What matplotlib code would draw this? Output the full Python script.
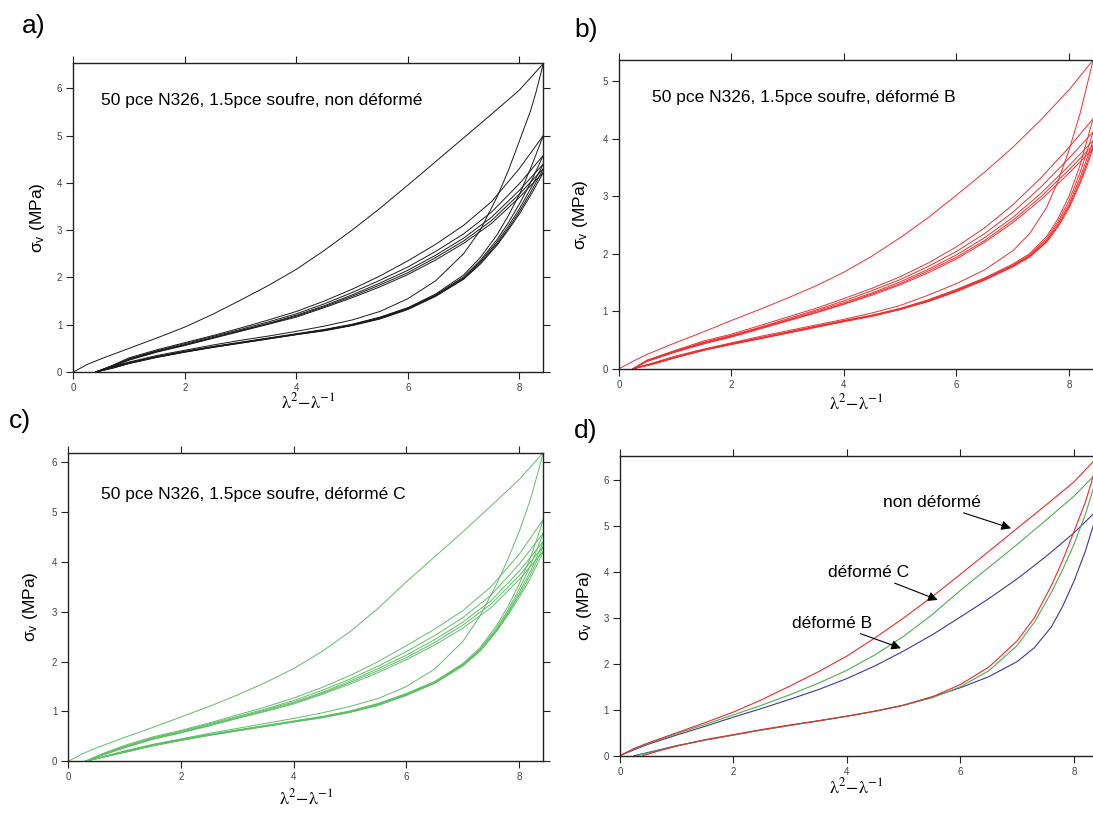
import matplotlib.pyplot as plt

plt.rcParams['font.family'] = ['Liberation Sans', 'DejaVu Sans']

# strain grids (lambda^2 - 1/lambda)
X_VIRGIN = [0, 0.25, 0.5, 1, 1.5, 2, 2.5, 3, 3.5, 4, 4.5, 5, 5.5, 6, 6.5, 7, 7.5, 8, 8.43]
X_RELOAD_A = [0.4, 0.7, 1.0, 1.5, 2.0, 2.5, 3.0, 3.5, 4.0, 4.5, 5.0, 5.5, 6.0, 6.5, 7.0, 7.5, 8.0, 8.43]
X_RELOAD_B = [0.25, 0.5, 1.0, 1.5, 2.0, 2.5, 3.0, 3.5, 4.0, 4.5, 5.0, 5.5, 6.0, 6.5, 7.0, 7.5, 8.0, 8.43]
X_RELOAD_C = [0.3, 0.6, 1.0, 1.5, 2.0, 2.5, 3.0, 3.5, 4.0, 4.5, 5.0, 5.5, 6.0, 6.5, 7.0, 7.5, 8.0, 8.43]
X_UNLOAD_A = [8.43, 8.3, 8.2, 8.0, 7.8, 7.6, 7.3, 7.0, 6.5, 6.0, 5.5, 5.0, 4.5, 4.0, 3.5, 3.0, 2.5, 2.0, 1.5, 1.0, 0.7, 0.4]
X_UNLOAD_B = [8.43, 8.3, 8.2, 8.0, 7.8, 7.6, 7.3, 7.0, 6.5, 6.0, 5.5, 5.0, 4.5, 4.0, 3.5, 3.0, 2.5, 2.0, 1.5, 1.0, 0.6, 0.25]
X_UNLOAD_C = [8.43, 8.3, 8.2, 8.0, 7.8, 7.6, 7.3, 7.0, 6.5, 6.0, 5.5, 5.0, 4.5, 4.0, 3.5, 3.0, 2.5, 2.0, 1.5, 1.0, 0.6, 0.3]

# a) non deforme
A_VIRGIN = [0, 0.16, 0.28, 0.5, 0.72, 0.95, 1.22, 1.52, 1.83, 2.17, 2.57, 3.0, 3.46, 3.95, 4.45, 4.95, 5.45, 5.96, 6.52]
A_UNLOAD1 = [6.52, 5.92, 5.52, 4.88, 4.25, 3.7, 3.0, 2.5, 1.93, 1.55, 1.28, 1.1, 0.97, 0.86, 0.76, 0.67, 0.57, 0.46, 0.35, 0.21, 0.11, 0]
A_RELOADS = [
    [0, 0.14, 0.3, 0.47, 0.62, 0.77, 0.93, 1.1, 1.28, 1.5, 1.75, 2.03, 2.35, 2.7, 3.1, 3.6, 4.3, 5.0],
    [0, 0.13, 0.28, 0.45, 0.6, 0.75, 0.9, 1.06, 1.23, 1.44, 1.68, 1.94, 2.22, 2.55, 2.92, 3.38, 3.98, 4.58],
    [0, 0.12, 0.27, 0.44, 0.58, 0.73, 0.88, 1.03, 1.2, 1.4, 1.63, 1.88, 2.15, 2.47, 2.83, 3.27, 3.84, 4.4],
    [0, 0.12, 0.26, 0.43, 0.57, 0.72, 0.87, 1.02, 1.18, 1.38, 1.6, 1.84, 2.1, 2.42, 2.77, 3.2, 3.76, 4.3],
    [0, 0.11, 0.25, 0.42, 0.56, 0.71, 0.86, 1.01, 1.16, 1.36, 1.57, 1.8, 2.06, 2.37, 2.72, 3.14, 3.69, 4.22],
]
A_UNLOADS = [
    [5.0, 4.6, 4.3, 3.75, 3.3, 2.9, 2.42, 2.05, 1.65, 1.36, 1.16, 1.01, 0.9, 0.81, 0.72, 0.63, 0.54, 0.44, 0.33, 0.2, 0.1, 0],
    [4.58, 4.25, 4.0, 3.55, 3.15, 2.8, 2.36, 2.01, 1.63, 1.35, 1.15, 1.0, 0.89, 0.8, 0.71, 0.62, 0.53, 0.43, 0.32, 0.19, 0.09, 0],
    [4.4, 4.1, 3.87, 3.45, 3.08, 2.75, 2.33, 1.99, 1.62, 1.34, 1.14, 0.99, 0.88, 0.8, 0.71, 0.62, 0.53, 0.43, 0.32, 0.19, 0.09, 0],
    [4.3, 4.01, 3.79, 3.39, 3.03, 2.71, 2.3, 1.97, 1.61, 1.33, 1.13, 0.99, 0.88, 0.79, 0.7, 0.61, 0.52, 0.42, 0.31, 0.18, 0.08, 0],
    [4.22, 3.94, 3.73, 3.34, 3.0, 2.68, 2.28, 1.96, 1.6, 1.32, 1.12, 0.98, 0.87, 0.79, 0.7, 0.61, 0.52, 0.42, 0.31, 0.18, 0.08, 0],
]

# b) deforme B
B_VIRGIN = [0, 0.13, 0.25, 0.45, 0.64, 0.84, 1.03, 1.23, 1.44, 1.68, 1.96, 2.28, 2.63, 3.02, 3.42, 3.85, 4.33, 4.85, 5.37]
B_UNLOAD1 = [5.37, 4.85, 4.45, 3.8, 3.25, 2.8, 2.35, 2.05, 1.72, 1.48, 1.28, 1.1, 0.97, 0.86, 0.76, 0.66, 0.56, 0.45, 0.34, 0.22, 0.1, 0]
B_RELOADS = [
    [0, 0.15, 0.32, 0.48, 0.6, 0.75, 0.9, 1.05, 1.22, 1.4, 1.6, 1.84, 2.12, 2.45, 2.85, 3.32, 3.85, 4.35],
    [0, 0.14, 0.31, 0.46, 0.58, 0.72, 0.87, 1.02, 1.18, 1.36, 1.55, 1.78, 2.04, 2.35, 2.72, 3.16, 3.66, 4.12],
    [0, 0.14, 0.3, 0.45, 0.57, 0.71, 0.85, 1.0, 1.15, 1.32, 1.51, 1.73, 1.98, 2.28, 2.63, 3.05, 3.53, 3.97],
    [0, 0.13, 0.29, 0.44, 0.56, 0.7, 0.84, 0.98, 1.13, 1.3, 1.48, 1.7, 1.94, 2.23, 2.58, 2.99, 3.46, 3.89],
    [0, 0.13, 0.29, 0.43, 0.55, 0.69, 0.83, 0.97, 1.12, 1.28, 1.46, 1.67, 1.91, 2.2, 2.54, 2.94, 3.4, 3.83],
]
B_UNLOADS = [
    [4.35, 3.9, 3.55, 3.0, 2.6, 2.3, 2.0, 1.82, 1.58, 1.38, 1.2, 1.05, 0.93, 0.84, 0.74, 0.64, 0.54, 0.44, 0.33, 0.2, 0.09, 0],
    [4.12, 3.72, 3.42, 2.92, 2.55, 2.26, 1.98, 1.8, 1.57, 1.37, 1.19, 1.04, 0.93, 0.83, 0.73, 0.63, 0.53, 0.43, 0.33, 0.2, 0.09, 0],
    [3.97, 3.6, 3.33, 2.86, 2.51, 2.23, 1.96, 1.79, 1.56, 1.36, 1.18, 1.04, 0.92, 0.83, 0.73, 0.63, 0.53, 0.43, 0.32, 0.2, 0.08, 0],
    [3.89, 3.53, 3.27, 2.82, 2.48, 2.21, 1.95, 1.78, 1.55, 1.35, 1.17, 1.03, 0.92, 0.82, 0.72, 0.62, 0.52, 0.43, 0.32, 0.19, 0.08, 0],
    [3.83, 3.48, 3.23, 2.79, 2.46, 2.2, 1.94, 1.77, 1.54, 1.34, 1.17, 1.03, 0.91, 0.82, 0.72, 0.62, 0.52, 0.42, 0.32, 0.19, 0.08, 0],
]

# c) deforme C
C_VIRGIN = [0, 0.15, 0.27, 0.48, 0.68, 0.89, 1.1, 1.33, 1.58, 1.86, 2.2, 2.6, 3.07, 3.6, 4.1, 4.6, 5.12, 5.65, 6.19]
C_UNLOAD1 = [6.19, 5.65, 5.25, 4.6, 4.05, 3.55, 2.9, 2.4, 1.85, 1.5, 1.26, 1.1, 0.97, 0.86, 0.76, 0.66, 0.56, 0.45, 0.34, 0.21, 0.09, 0]
C_RELOADS = [
    [0, 0.15, 0.32, 0.49, 0.62, 0.77, 0.93, 1.09, 1.27, 1.48, 1.72, 2.0, 2.32, 2.65, 3.02, 3.5, 4.15, 4.85],
    [0, 0.14, 0.3, 0.47, 0.6, 0.75, 0.9, 1.05, 1.22, 1.42, 1.65, 1.91, 2.2, 2.52, 2.88, 3.33, 3.95, 4.58],
    [0, 0.13, 0.29, 0.46, 0.59, 0.73, 0.88, 1.03, 1.19, 1.38, 1.61, 1.86, 2.13, 2.44, 2.79, 3.22, 3.81, 4.41],
    [0, 0.13, 0.28, 0.45, 0.58, 0.72, 0.87, 1.01, 1.17, 1.36, 1.58, 1.82, 2.08, 2.38, 2.73, 3.15, 3.72, 4.31],
    [0, 0.12, 0.27, 0.44, 0.57, 0.71, 0.86, 1.0, 1.15, 1.34, 1.55, 1.78, 2.04, 2.33, 2.67, 3.08, 3.64, 4.21],
]
C_UNLOADS = [
    [4.85, 4.4, 4.08, 3.55, 3.1, 2.72, 2.27, 1.96, 1.6, 1.36, 1.16, 1.01, 0.9, 0.81, 0.72, 0.63, 0.54, 0.44, 0.33, 0.2, 0.08, 0],
    [4.58, 4.2, 3.92, 3.45, 3.03, 2.67, 2.24, 1.94, 1.59, 1.35, 1.15, 1.0, 0.89, 0.8, 0.71, 0.62, 0.53, 0.43, 0.32, 0.19, 0.08, 0],
    [4.41, 4.06, 3.81, 3.38, 2.99, 2.64, 2.22, 1.93, 1.58, 1.34, 1.14, 0.99, 0.88, 0.8, 0.71, 0.62, 0.53, 0.43, 0.32, 0.19, 0.08, 0],
    [4.31, 3.98, 3.74, 3.33, 2.96, 2.62, 2.21, 1.92, 1.57, 1.33, 1.13, 0.99, 0.88, 0.79, 0.7, 0.61, 0.52, 0.42, 0.31, 0.18, 0.08, 0],
    [4.21, 3.9, 3.67, 3.28, 2.93, 2.6, 2.2, 1.91, 1.56, 1.32, 1.12, 0.98, 0.87, 0.79, 0.7, 0.61, 0.52, 0.42, 0.31, 0.18, 0.08, 0],
]

TITLES = ["50 pce N326, 1.5pce soufre, non déformé",
          "50 pce N326, 1.5pce soufre, déformé B",
          "50 pce N326, 1.5pce soufre, déformé C"]
D_LABELS = ["non déformé", "déformé C", "déformé B"]

XLABEL = r'$\mathrm{\lambda}^{2}\!-\!\mathrm{\lambda}^{-1}$'
YLABEL = r'$\mathregular{\sigma_v}$ (MPa)'

W, H = 1093, 813
fig = plt.figure(figsize=(W / 100, H / 100), dpi=100)


def px_axes(left, top, right, bottom):
    return fig.add_axes([left / W, 1 - bottom / H, (right - left) / W, (bottom - top) / H])


def style(ax, xmax, ymax, yticks, clip_right=False):
    ax.set_xlim(0, xmax)
    ax.set_ylim(0, ymax)
    ax.set_xticks([0, 2, 4, 6, 8])
    ax.set_yticks(yticks)
    for s in ax.spines.values():
        s.set_linewidth(1.0)
        s.set_color('#222222')
    ax.tick_params(direction='out', length=5, width=0.8, top=True, right=not clip_right,
                   labelsize=7, labelcolor='#444444', color='#222222', pad=3)
    if clip_right:
        ax.spines['right'].set_visible(False)


def cycles(ax, color, xv, virgin, xu, unload1, xr, reloads, unloads):
    kw = dict(color=color, lw=0.7)
    ax.plot(xv, virgin, **kw)
    ax.plot(xu, unload1, **kw)
    for r, u in zip(reloads, unloads):
        ax.plot(xr, r, **kw)
        ax.plot(xu, u, **kw)


# a)
ax_a = px_axes(73.3, 62.7, 543.3, 372)
cycles(ax_a, '#1a1a1a', X_VIRGIN, A_VIRGIN, X_UNLOAD_A, A_UNLOAD1, X_RELOAD_A, A_RELOADS, A_UNLOADS)
style(ax_a, 8.43, 6.54, range(7))
ax_a.text(0.5, 5.75, TITLES[0], fontsize=12.5, va='center')
ax_a.yaxis.set_label_coords(-0.076, 0.62)
ax_a.xaxis.set_label_coords(0.5, -0.065)

# b)
ax_b = px_axes(619, 60, 1093, 368.7)
cycles(ax_b, '#ee3030', X_VIRGIN, B_VIRGIN, X_UNLOAD_B, B_UNLOAD1, X_RELOAD_B, B_RELOADS, B_UNLOADS)
style(ax_b, 8.427, 5.37, range(6), clip_right=True)
ax_b.text(0.59, 4.71, TITLES[1], fontsize=12.5, va='center')
ax_b.yaxis.set_label_coords(-0.082, 0.57)
ax_b.xaxis.set_label_coords(0.55, -0.079)

# c)
ax_c = px_axes(68.3, 452.7, 543.3, 761.3)
cycles(ax_c, '#5fbf66', X_VIRGIN, C_VIRGIN, X_UNLOAD_C, C_UNLOAD1, X_RELOAD_C, C_RELOADS, C_UNLOADS)
style(ax_c, 8.43, 6.19, range(7))
ax_c.text(0.58, 5.35, TITLES[2], fontsize=12.5, va='center')
ax_c.yaxis.set_label_coords(-0.079, 0.57)
ax_c.xaxis.set_label_coords(0.5, -0.0865)

# d) first cycle of each material
ax_d = px_axes(620, 455.7, 1093, 755.7)
ax_d.plot(X_VIRGIN, B_VIRGIN, color='#3a3a9c', lw=0.8)
ax_d.plot(X_UNLOAD_B, B_UNLOAD1, color='#3a3a9c', lw=0.8)
ax_d.plot(X_VIRGIN, C_VIRGIN, color='#4cb04f', lw=0.8)
ax_d.plot(X_UNLOAD_C, C_UNLOAD1, color='#4cb04f', lw=0.8)
ax_d.plot(X_VIRGIN, A_VIRGIN, color='#ee2b2b', lw=0.8)
ax_d.plot(X_UNLOAD_A, A_UNLOAD1, color='#ee2b2b', lw=0.8)
style(ax_d, 8.335, 6.53, range(7), clip_right=True)
ax_d.yaxis.set_label_coords(-0.074, 0.606)
ax_d.xaxis.set_label_coords(0.567, -0.071)

arrow = dict(arrowstyle='-|>', color='black', lw=0.8, mutation_scale=14, shrinkA=0, shrinkB=0)
ax_d.annotate(D_LABELS[0], xy=(6.89, 4.95), xytext=(6.36, 5.51), fontsize=12.5,
              ha='right', va='center', arrowprops=arrow)
ax_d.annotate(D_LABELS[1], xy=(5.60, 3.39), xytext=(5.09, 3.98), fontsize=12.5,
              ha='right', va='center', arrowprops=arrow)
ax_d.annotate(D_LABELS[2], xy=(4.95, 2.34), xytext=(4.44, 2.88), fontsize=12.5,
              ha='right', va='center', arrowprops=arrow)

for ax in (ax_a, ax_b, ax_c, ax_d):
    ax.set_ylabel(YLABEL, fontsize=12.5, va='center')
    ax.set_xlabel(XLABEL, fontsize=13, math_fontfamily='stix')

fig.text(22 / W, 1 - 26 / H, 'a)', fontsize=19, va='center')
fig.text(574 / W, 1 - 30 / H, 'b)', fontsize=19, va='center')
fig.text(9 / W, 1 - 421 / H, 'c)', fontsize=19, va='center')
fig.text(574 / W, 1 - 431 / H, 'd)', fontsize=19, va='center')

fig.savefig('out.png', dpi=100)
